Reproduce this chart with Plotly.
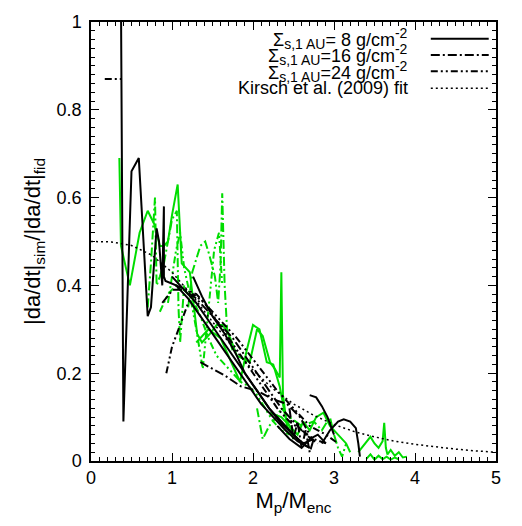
import plotly.graph_objects as go

# ---------------- data ----------------
fit_x = [0, 0.25, 0.5, 0.75, 1.0, 1.25, 1.5, 1.75, 2.0, 2.25, 2.5, 2.75, 3.0,
         3.25, 3.5, 3.75, 4.0, 4.25, 4.5, 4.75, 5.0]
fit_y = [0.500, 0.499, 0.491, 0.469, 0.430, 0.377, 0.317, 0.259, 0.207, 0.164,
         0.130, 0.104, 0.083, 0.067, 0.055, 0.045, 0.038, 0.032, 0.027, 0.023, 0.020]

# Sigma = 8 (black solid)
bs1_x = [0.37, 0.40, 0.50, 0.59, 0.70, 0.74, 0.81, 0.84, 0.88, 0.90, 0.90, 0.92, 1.05, 1.20,
         1.35, 1.50, 1.65, 1.80, 1.95, 2.10, 2.25, 2.40, 2.55, 2.70]
bs1_y = [1.05, 0.09, 0.66, 0.69, 0.33, 0.35, 0.53, 0.50, 0.40, 0.58, 0.42, 0.41, 0.40, 0.37,
         0.33, 0.29, 0.25, 0.21, 0.17, 0.13, 0.10, 0.07, 0.045, 0.03]
bs2_x = [1.26, 1.37, 1.50, 1.65, 1.80, 1.90, 2.05, 2.20, 2.35, 2.50, 2.60, 2.70]
bs2_y = [0.42, 0.375, 0.33, 0.29, 0.24, 0.20, 0.16, 0.12, 0.09, 0.06, 0.04, 0.03]
bs3_x = [1.00, 1.15, 1.30, 1.45, 1.60, 1.75, 1.90, 2.05, 2.20, 2.35, 2.50, 2.62, 2.75]
bs3_y = [0.42, 0.39, 0.36, 0.32, 0.28, 0.24, 0.20, 0.16, 0.12, 0.085, 0.06, 0.04, 0.05]
bs4_x = [2.70, 2.78, 2.85, 2.92, 2.97, 3.00]
bs4_y = [0.15, 0.145, 0.125, 0.10, 0.075, 0.06]
bs5_x = [2.85, 2.95, 3.05, 3.12, 3.20, 3.27, 3.30, 3.32]
bs5_y = [0.04, 0.07, 0.09, 0.095, 0.09, 0.075, 0.04, 0.01]
bs6_x = [2.30, 2.45, 2.60, 2.70, 2.80, 2.90]
bs6_y = [0.08, 0.05, 0.03, 0.05, 0.06, 0.04]

# Sigma = 16 (black dash-dot)
kd1_x = [0.88, 1.01, 1.15, 1.30, 1.45, 1.60, 1.75, 1.90, 2.05, 2.20, 2.35, 2.50, 2.65, 2.80]
kd1_y = [0.36, 0.39, 0.39, 0.37, 0.34, 0.31, 0.28, 0.24, 0.20, 0.16, 0.12, 0.09, 0.06, 0.04]
kd2_x = [1.35, 1.50, 1.65, 1.85, 2.05, 2.25, 2.42, 2.58, 2.70]
kd2_y = [0.225, 0.21, 0.195, 0.17, 0.16, 0.14, 0.13, 0.10, 0.06]
kd3_x = [2.45, 2.50, 2.55, 2.60, 2.65, 2.70, 2.75]
kd3_y = [0.12, 0.05, 0.09, 0.03, 0.07, 0.02, 0.05]

# Sigma = 24 (black dash-dot-dot)
kdd0_x = [0.17, 0.37]
kdd0_y = [0.87, 0.87]
kdd1_x = [0.93, 1.00, 1.10, 1.20, 1.26, 1.40, 1.55, 1.70, 1.85, 2.00, 2.15, 2.30, 2.45,
          2.60, 2.75, 2.90]
kdd1_y = [0.20, 0.26, 0.31, 0.36, 0.38, 0.36, 0.32, 0.28, 0.24, 0.20, 0.16, 0.12, 0.09,
          0.07, 0.05, 0.04]
kdd2_x = [1.05, 1.30, 1.55, 1.80, 2.05, 2.30, 2.50, 2.70, 2.90, 3.05]
kdd2_y = [0.40, 0.38, 0.33, 0.28, 0.22, 0.16, 0.12, 0.08, 0.06, 0.04]

# green runs (solid / dash-dot / dash-dot-dot)
gs1_x = [0.35, 0.37, 0.48, 0.60, 0.70, 0.78, 0.85, 0.90, 0.95, 1.00, 1.07, 1.12, 1.22,
         1.31, 1.37, 1.47, 1.55, 1.63, 1.72, 1.80, 1.96, 2.05, 2.12, 2.21, 2.27, 2.33,
         2.35, 2.37, 2.42, 2.50]
gs1_y = [0.69, 0.49, 0.40, 0.52, 0.57, 0.54, 0.49, 0.49, 0.50, 0.56, 0.63, 0.45, 0.43,
         0.29, 0.27, 0.29, 0.31, 0.31, 0.28, 0.24, 0.225, 0.30, 0.285, 0.225, 0.21, 0.19,
         0.43, 0.15, 0.08, 0.05]
gs2_x = [1.30, 1.45, 1.60, 1.75, 1.84, 1.92, 2.00, 2.08, 2.17, 2.25, 2.33, 2.40, 2.50, 2.60]
gs2_y = [0.27, 0.30, 0.28, 0.22, 0.18, 0.25, 0.31, 0.30, 0.225, 0.22, 0.17, 0.10, 0.06, 0.04]
gs3_x = [2.20, 2.35, 2.45, 2.55, 2.62, 2.70, 2.78, 2.87, 2.95, 3.05, 3.15, 3.20]
gs3_y = [0.11, 0.10, 0.08, 0.06, 0.09, 0.07, 0.10, 0.11, 0.08, 0.06, 0.04, 0.02]
gs4_x = [3.30, 3.38, 3.45, 3.50, 3.55, 3.60, 3.62, 3.64, 3.66, 3.70, 3.75, 3.80, 3.85, 3.90]
gs4_y = [0.02, 0.04, 0.055, 0.04, 0.03, 0.045, 0.087, 0.03, 0.015, 0.025, 0.012, 0.02,
         0.008, 0.01]
gs5_x = [3.40, 3.45, 3.50, 3.55, 3.60, 3.65, 3.70, 3.75, 3.80]
gs5_y = [0.005, 0.015, 0.003, 0.012, 0.004, 0.010, 0.003, 0.008, 0.004]

gd1_x = [0.70, 0.74, 0.79, 0.81, 0.85, 0.90, 0.95, 1.00, 1.06, 1.08, 1.10, 1.15]
gd1_y = [0.35, 0.45, 0.60, 0.40, 0.42, 0.45, 0.50, 0.55, 0.57, 0.35, 0.27, 0.40]
gd2_x = [1.20, 1.25, 1.30, 1.35, 1.41, 1.46, 1.53, 1.57, 1.60, 1.62, 1.65, 1.68, 1.75]
gd2_y = [0.35, 0.43, 0.46, 0.49, 0.50, 0.47, 0.42, 0.36, 0.45, 0.61, 0.40, 0.30, 0.25]
gd3_x = [2.05, 2.12, 2.20, 2.29, 2.35, 2.45, 2.60, 2.75, 2.85, 2.95, 3.00, 3.05, 3.10, 3.15]
gd3_y = [0.12, 0.05, 0.08, 0.10, 0.12, 0.10, 0.08, 0.09, 0.07, 0.10, 0.06, 0.03, 0.01, 0.04]

gdd1_x = [0.85, 0.95, 1.05, 1.15, 1.25, 1.35, 1.45, 1.55, 1.65, 1.75, 1.85, 1.95, 2.05,
          2.15, 2.25, 2.35, 2.45]
gdd1_y = [0.34, 0.38, 0.40, 0.39, 0.37, 0.33, 0.28, 0.24, 0.22, 0.20, 0.18, 0.17, 0.15,
          0.12, 0.09, 0.07, 0.06]
gdd2_x = [0.95, 1.00, 1.05, 1.10, 1.15, 1.22, 1.30, 1.38, 1.45, 1.52, 1.58, 1.62]
gdd2_y = [0.36, 0.42, 0.48, 0.52, 0.44, 0.38, 0.30, 0.21, 0.35, 0.48, 0.52, 0.40]

SUB = "<sub><span style='font-size:14px'>s,1 AU</span></sub>"
SUP = "<sup><span style='font-size:14px'>-2</span></sup>"
legend_labels = ["Σ" + SUB + "= 8 g/cm" + SUP,
                 "Σ" + SUB + "=16 g/cm" + SUP,
                 "Σ" + SUB + "=24 g/cm" + SUP,
                 "Kirsch et al. (2009) fit"]

# ---------------- styles ----------------
BLACK = "black"
GREEN = "#00dd00"
SOLID = "solid"
DASHDOT = "9px,3px,2px,3px"
DASHDOTDOT = "7px,3px,2px,3px,2px,3px"
DOT = "2px,3px"
FONT = "Liberation Sans, Arial, sans-serif"

fig = go.Figure()


def add(x, y, color, dash, width=2.0):
    fig.add_trace(go.Scatter(x=x, y=y, mode="lines", showlegend=False,
                             line=dict(color=color, dash=dash, width=width)))


# green first (behind), then black
for x, y in [(gs1_x, gs1_y), (gs2_x, gs2_y), (gs3_x, gs3_y), (gs4_x, gs4_y), (gs5_x, gs5_y)]:
    add(x, y, GREEN, SOLID)
for x, y in [(gd1_x, gd1_y), (gd2_x, gd2_y), (gd3_x, gd3_y)]:
    add(x, y, GREEN, DASHDOT)
for x, y in [(gdd1_x, gdd1_y), (gdd2_x, gdd2_y)]:
    add(x, y, GREEN, DASHDOTDOT)
for x, y in [(bs1_x, bs1_y), (bs2_x, bs2_y), (bs3_x, bs3_y), (bs4_x, bs4_y),
             (bs5_x, bs5_y), (bs6_x, bs6_y)]:
    add(x, y, BLACK, SOLID)
for x, y in [(kd1_x, kd1_y), (kd2_x, kd2_y), (kd3_x, kd3_y)]:
    add(x, y, BLACK, DASHDOT)
for x, y in [(kdd0_x, kdd0_y), (kdd1_x, kdd1_y), (kdd2_x, kdd2_y)]:
    add(x, y, BLACK, DASHDOTDOT)
add(fit_x, fit_y, BLACK, DOT, 1.5)

# ---------------- legend (gnuplot style: text left, sample right) ----------------
leg_dash = [SOLID, DASHDOT, DASHDOTDOT, DOT]
leg_width = [2.0, 2.0, 2.0, 1.5]
leg_y = [0.962, 0.925, 0.888, 0.849]
for lab, d, w, yy in zip(legend_labels, leg_dash, leg_width, leg_y):
    fig.add_annotation(x=0.788, y=yy, xref="paper", yref="paper", text=lab,
                       showarrow=False, xanchor="right", yanchor="middle",
                       font=dict(size=18, color="black", family=FONT))
    fig.add_shape(type="line", xref="paper", yref="paper", x0=0.839, x1=0.982,
                  y0=yy, y1=yy, line=dict(color="black", dash=d, width=w))

axis_common = dict(showline=True, linecolor="black", linewidth=1.5, mirror="allticks",
                   ticks="inside", ticklen=8, tickwidth=1, tickcolor="black",
                   showgrid=False, zeroline=False,
                   tickfont=dict(size=18, color="black", family=FONT))

fig.update_xaxes(range=[0, 5], dtick=1, tick0=0,
                 minor=dict(dtick=0.1, ticklen=4, ticks="inside", tickcolor="black"),
                 title=dict(text="M<sub>p</sub>/M<sub>enc</sub>",
                            font=dict(size=22, color="black", family=FONT), standoff=4),
                 **axis_common)
fig.update_yaxes(range=[0, 1], dtick=0.2, tick0=0, ticklabelstandoff=4,
                 minor=dict(dtick=0.02, ticklen=4, ticks="inside", tickcolor="black"),
                 title=dict(text="|da/dt|<sub>sim</sub>/|da/dt|<sub>fid</sub>",
                            font=dict(size=22, color="black", family=FONT), standoff=10),
                 **axis_common)

fig.update_layout(width=522, height=526, plot_bgcolor="white", paper_bgcolor="white",
                  margin=dict(l=91, r=26, t=13, b=65), showlegend=False,
                  font=dict(family=FONT, color="black"))

fig.write_html("out.html")
